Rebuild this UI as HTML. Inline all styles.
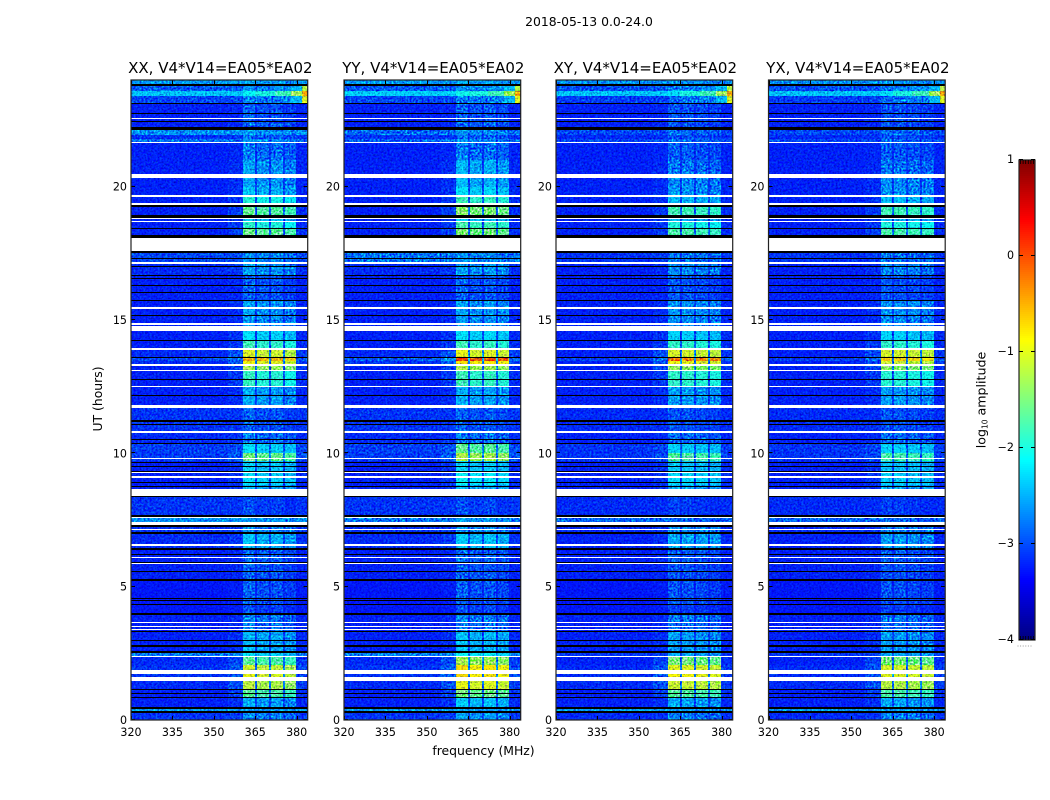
<!DOCTYPE html>
<html lang="en">
<head>
<meta charset="utf-8">
<title>2018-05-13 0.0-24.0</title>
<style>
html,body{margin:0;padding:0;background:#fff;}
svg{display:block;font-family:"DejaVu Sans","Liberation Sans",sans-serif;fill:#000;}
.noise-blend{mix-blend-mode:overlay;}
</style>
</head>
<body>
<svg id="fig" xmlns="http://www.w3.org/2000/svg" width="1050" height="800" viewBox="0 0 1050 800">
  <defs>
    <filter id="noise-gray" x="0" y="0" width="100%" height="100%" color-interpolation-filters="sRGB">
      <feTurbulence type="fractalNoise" baseFrequency="0.5" numOctaves="2" seed="4"/>
      <feColorMatrix type="matrix" values="2 0 0 0 -0.52  2 0 0 0 -0.52  2 0 0 0 -0.52  0 0 0 0 1"/>
    </filter>
    <filter id="noise-dark" x="0" y="0" width="100%" height="100%" color-interpolation-filters="sRGB">
      <feTurbulence type="fractalNoise" baseFrequency="0.55" numOctaves="2" seed="11"/>
      <feColorMatrix type="matrix" values="0 0 0 0 0  0 0 0 0 0  0 0 0 0 0.5  1.6 0 0 0 -0.8"/>
    </filter>
  </defs>
  <text x="589" y="26" font-size="12.4" text-anchor="middle">2018-05-13 0.0-24.0</text>
  <text x="102" y="399" font-size="12.4" text-anchor="middle" transform="rotate(-90 102 399)">UT (hours)</text>
  <text x="483.5" y="755" font-size="12.4" text-anchor="middle">frequency (MHz)</text>
  <text x="985.5" y="400" font-size="12.6" text-anchor="middle" transform="rotate(-90 985.5 400)">log<tspan font-size="7.5" dy="2">10</tspan><tspan dy="-2"> amplitude</tspan></text>
  <g id="panels"></g>
  <g id="cbar"></g>
</svg>
<script>
// ---- chart data ----
const panelTitles = ["XX, V4*V14=EA05*EA02", "YY, V4*V14=EA05*EA02", "XY, V4*V14=EA05*EA02", "YX, V4*V14=EA05*EA02"];
const freqTicks = [320, 335, 350, 365, 380];
const utTicks = [0, 5, 10, 15, 20];
const colorTicks = [1, 0, -1, -2, -3, -4];
const colorTickLabels = ["1", "0", "\u22121", "\u22122", "\u22123", "\u22124"];
// frequency windows (MHz) of the four receiver blocks
const blockStart = [360.6, 365.6, 370.7, 375.7];
const blockEnd = [364.8, 369.9, 375.0, 379.9];
// time segment boundaries (UT hours) and log10 amplitude per segment
const segEdges = [0,0.34,0.41,0.81,1.16,1.47,1.88,2.05,2.36,2.57,3.34,3.68,4.0,4.35,5.25,5.9,6.4,7.0,7.43,7.61,8.38,8.8,9.3,9.7,10.0,10.35,10.85,11.7,12.15,12.5,13.1,13.3,13.45,13.63,13.95,14.25,14.6,15.2,15.75,16.3,16.7,17.1,17.5,18.1,18.42,18.7,18.85,19.3,19.65,20.0,20.35,20.5,21.0,21.65,21.8,21.95,22.13,22.46,23.1,23.4,23.6,23.85,24];
const bgXX = [-3.1,-2.55,-3.2,-3.2,-3.15,-3.1,-3.1,-3.15,-2.7,-3.2,-3.2,-3.2,-3.25,-3.25,-3.2,-3.2,-3.15,-3.1,-2.6,-3.1,-3.2,-3.2,-3.2,-3.05,-3.05,-3.15,-3.1,-3.2,-3.2,-3.2,-3.2,-3.15,-3.0,-3.15,-3.2,-3.2,-3.2,-3.2,-3.2,-3.2,-3.15,-3.0,-3.2,-3.2,-3.2,-3.2,-3.2,-3.2,-3.2,-3.2,-3.2,-3.2,-3.2,-2.8,-3.1,-2.6,-3.2,-3.2,-3.0,-2.35,-2.9,-2.55];
const bgYY = [-3.1,-2.55,-3.2,-3.2,-3.15,-3.1,-3.1,-3.15,-2.7,-3.2,-3.2,-3.2,-3.25,-3.25,-3.2,-3.2,-3.15,-3.1,-2.75,-3.1,-3.2,-3.2,-3.2,-3.05,-3.05,-3.15,-3.1,-3.2,-3.2,-3.2,-3.2,-3.1,-2.9,-3.15,-3.2,-3.2,-3.2,-3.2,-3.2,-3.2,-3.15,-2.75,-3.2,-3.2,-3.2,-3.2,-3.2,-3.2,-3.2,-3.2,-3.2,-3.2,-3.2,-2.85,-3.1,-2.8,-3.2,-3.2,-3.0,-2.3,-2.9,-2.55];
const bgCross = [-3.15,-2.55,-3.2,-3.2,-3.15,-3.15,-3.15,-3.2,-3.1,-3.2,-3.2,-3.2,-3.25,-3.25,-3.2,-3.2,-3.2,-3.15,-2.85,-3.15,-3.2,-3.2,-3.2,-3.1,-3.1,-3.2,-3.15,-3.2,-3.2,-3.2,-3.2,-3.2,-3.05,-3.2,-3.2,-3.2,-3.2,-3.2,-3.2,-3.2,-3.2,-3.1,-3.2,-3.2,-3.2,-3.2,-3.2,-3.2,-3.2,-3.2,-3.2,-3.2,-3.2,-3.0,-3.15,-3.0,-3.2,-3.2,-3.05,-2.35,-2.95,-2.6];
const blockXX = [-2.7,-2.55,-2.55,-1.75,-1.25,-1.05,-1.15,-1.75,-2.3,-2.5,-2.8,-2.75,-3.05,-2.95,-2.95,-2.9,-2.45,-2.65,-2.6,-3.05,-2.5,-2.3,-2.35,-1.6,-2.3,-2.8,-2.95,-2.55,-2.55,-1.95,-1.35,-1.0,-0.6,-1.1,-1.9,-2.3,-2.65,-2.6,-2.95,-2.95,-2.6,-2.7,-2.7,-1.65,-2.0,-2.4,-1.7,-2.05,-2.45,-2.6,-2.6,-2.6,-2.8,-2.65,-2.9,-2.6,-2.9,-2.95,-2.8,-2.2,-2.7,-2.55];
const blockYY = [-2.6,-2.55,-2.4,-1.6,-1.05,-0.85,-0.85,-1.35,-2.2,-2.45,-2.8,-2.75,-3.05,-2.95,-2.95,-2.9,-2.4,-2.65,-2.6,-3.05,-2.5,-2.2,-2.35,-1.3,-1.7,-2.8,-2.95,-2.55,-2.55,-1.9,-1.3,-0.85,-0.1,-1.05,-1.9,-2.3,-2.65,-2.6,-2.95,-2.95,-2.6,-2.7,-2.7,-1.55,-1.85,-2.4,-1.5,-1.9,-2.3,-2.5,-2.5,-2.5,-2.8,-2.65,-2.9,-2.65,-2.9,-2.95,-2.8,-2.15,-2.7,-2.55];
const blockXY = [-2.7,-2.55,-2.5,-1.7,-1.1,-0.9,-1.0,-1.5,-2.5,-2.55,-2.8,-2.75,-3.05,-2.95,-2.95,-2.9,-2.5,-2.65,-2.8,-3.05,-2.5,-2.25,-2.35,-1.7,-2.3,-2.8,-2.95,-2.55,-2.55,-1.9,-1.35,-0.95,-0.3,-1.05,-1.9,-2.3,-2.65,-2.6,-2.95,-2.95,-2.65,-2.75,-2.7,-1.75,-2.0,-2.45,-1.8,-2.4,-2.6,-2.65,-2.65,-2.75,-2.9,-2.8,-2.95,-2.8,-2.95,-2.95,-2.85,-2.25,-2.75,-2.6];
const blockYX = [-2.7,-2.55,-2.5,-1.75,-1.2,-1.0,-1.05,-1.5,-2.5,-2.55,-2.8,-2.75,-3.05,-2.95,-2.95,-2.9,-2.55,-2.65,-2.8,-3.05,-2.5,-2.3,-2.35,-1.75,-2.3,-2.8,-2.95,-2.55,-2.55,-1.95,-1.4,-1.1,-0.7,-1.05,-1.9,-2.3,-2.65,-2.6,-2.95,-2.95,-2.65,-2.75,-2.7,-1.75,-2.0,-2.45,-1.8,-2.4,-2.6,-2.65,-2.65,-2.75,-2.9,-2.8,-2.95,-2.8,-2.95,-2.95,-2.85,-2.25,-2.75,-2.6];
// per-block level offsets for each polarisation
const blockOffsetXX = [0.1, 0, 0.02, -0.1];
const blockOffsetYY = [0.1, 0, 0.05, -0.05];
const blockOffsetXY = [0.02, 0, -0.05, -0.1];
const blockOffsetYX = [0.02, 0, -0.05, -0.1];
// strong RFI wedge at the top-right corner of every panel
const spurFreqStart = [365, 372, 378, 382];
const spurFreqEnd = [372, 378, 382, 384];
const spurUTStart = [23.4, 23.1, 23.6];
const spurUTEnd = [23.6, 23.4, 23.85];
const spurCore = [-2.0, -1.8, -1.3, -0.5];
const spurLower = [-2.75, -2.7, -2.4, -1.0];
const spurUpper = [-2.7, -2.6, -2.4, -1.2];
// flagged (no data, white) and zero-amplitude (black) intervals, UT hours
const whiteStart = [22.52,21.64,20.34,19.61,19.31,18.77,18.68,17.59,17.1,15.43,14.81,14.64,14.59,13.89,13.29,13.07,12.47,11.7,10.78,9.77,9.26,9.09,8.4,7.58,7.31,7.13,6.54,6.09,5.85,3.63,3.5,3.39,2.36,1.73,1.47];
const whiteEnd = [22.58,21.68,20.49,19.67,19.39,18.81,18.71,18.07,17.18,15.49,14.89,14.76,14.63,13.95,13.35,13.13,12.53,11.81,10.84,9.83,9.3,9.15,8.68,7.61,7.43,7.16,6.6,6.13,5.89,3.68,3.54,3.43,2.4,1.88,1.62];
const blackStart = [23.78,23.1,22.73,22.43,22.13,19.24,18.84,18.41,18.09,17.51,17.33,16.99,16.65,16.54,16.28,16.01,15.71,15.15,14.21,13.59,12.75,12.15,11.16,11.06,10.5,10.35,9.64,9.49,9.3,8.89,8.72,8.36,7.63,7.24,6.98,6.39,6.2,5.89,5.55,5.21,4.56,4.46,4.31,3.94,3.3,2.96,2.79,2.72,2.53,1.14,0.99,0.81,0.41,0.25];
const blackEnd = [23.85,23.14,22.76,22.46,22.22,19.31,18.92,18.45,18.17,17.59,17.34,17.03,16.69,16.58,16.31,16.05,15.75,15.19,14.25,13.63,12.79,12.19,11.25,11.1,10.54,10.39,9.69,9.53,9.34,8.93,8.78,8.4,7.67,7.31,7.05,6.45,6.24,5.93,5.59,5.27,4.59,4.5,4.35,4.02,3.34,3.0,2.83,2.76,2.57,1.18,1.03,0.85,0.5,0.34];

// ---- axes ----
const NS = "http://www.w3.org/2000/svg";
const panelLeft = [131, 344, 556, 768.5];
const panelWidth = 176.7;
const plotTop = 80, plotBottom = 720;
const freqMin = 320, freqMax = 384, utMin = 0, utMax = 24;
const levelMin = -4, levelMax = 1;
function xScale(p, f) { return panelLeft[p] + (f - freqMin) / (freqMax - freqMin) * panelWidth; }
function yScale(ut) { return plotBottom - (ut - utMin) / (utMax - utMin) * (plotBottom - plotTop); }
function clamp01(v) { return Math.max(0, Math.min(1, v)); }
function jet(level) {
  const t = clamp01((level - levelMin) / (levelMax - levelMin));
  const r = clamp01(Math.min(4 * t - 1.5, -4 * t + 4.5));
  const g = clamp01(Math.min(4 * t - 0.5, -4 * t + 3.5));
  const b = clamp01(Math.min(4 * t + 0.5, -4 * t + 2.5));
  return "rgb(" + Math.round(r * 255) + "," + Math.round(g * 255) + "," + Math.round(b * 255) + ")";
}
function svgEl(tag, attrs, parent) {
  const el = document.createElementNS(NS, tag);
  for (const k in attrs) el.setAttribute(k, attrs[k]);
  parent.appendChild(el);
  return el;
}
function heatCell(g, p, f0, f1, u0, u1, level) {
  const x0 = Math.round(xScale(p, f0)), x1 = Math.round(xScale(p, f1));
  const y0 = Math.round(yScale(u1)), y1 = Math.round(yScale(u0));
  if (x1 <= x0 || y1 <= y0) return;
  const el = svgEl("rect", { x: x0, y: y0, width: x1 - x0, height: y1 - y0, fill: jet(level) }, g);
  
  
}
function bandRect(g, p, u0, u1, color) {
  const x0 = xScale(p, freqMin);
  const y0 = Math.round(yScale(u1));
  const h = Math.max(1, Math.round(yScale(u0)) - y0);
  const el = svgEl("rect", { x: x0, y: y0, width: panelWidth, height: h, fill: color }, g);
  
  
}

const panelsRoot = document.getElementById("panels");
const bgByPanel = [bgXX, bgYY, bgCross, bgCross];
const blockByPanel = [blockXX, blockYY, blockXY, blockYX];
const offsetByPanel = [blockOffsetXX, blockOffsetYY, blockOffsetXY, blockOffsetYX];

panelTitles.forEach(function (title, p) {
  const g = svgEl("g", {}, panelsRoot);
  
  
  const stack = svgEl("g", { style: "isolation:isolate" }, g);
  
  
  const img = svgEl("g", { "shape-rendering": "crispEdges" }, stack);
  
  

  for (let i = 0; i < segEdges.length - 1; i++) {
    const u0 = segEdges[i], u1 = segEdges[i + 1];
    const bg = bgByPanel[p][i], lev = blockByPanel[p][i];
    heatCell(img, p, freqMin, 355, u0, u1, bg);
    heatCell(img, p, 355, blockStart[0], u0, u1, bg + 0.1 * (lev - bg));
    blockStart.forEach(function (bs, b) {
      heatCell(img, p, bs, blockEnd[b], u0, u1, lev + offsetByPanel[p][b]);
      const next = b < blockStart.length - 1 ? blockStart[b + 1] : freqMax;
      const gapShare = b < blockStart.length - 1 ? 0.2 : 0.05;
      heatCell(img, p, blockEnd[b], next, u0, u1, bg + gapShare * (lev - bg));
    });
  }
  spurFreqStart.forEach(function (fs, k) {
    const fe = spurFreqEnd[k];
    heatCell(img, p, fs, fe, spurUTStart[0], spurUTEnd[0], spurCore[k]);
    heatCell(img, p, fs, fe, spurUTStart[1], spurUTEnd[1], spurLower[k]);
    heatCell(img, p, fs, fe, spurUTStart[2], spurUTEnd[2], spurUpper[k]);
  });

  const nx = xScale(p, freqMin), nw = panelWidth, nh = plotBottom - plotTop;
  const n1 = svgEl("rect", { x: nx, y: plotTop, width: nw, height: nh, filter: "url(#noise-gray)", class: "noise-blend" }, stack);
  
  
  const n2 = svgEl("rect", { x: nx, y: plotTop, width: nw, height: nh, filter: "url(#noise-dark)" }, stack);
  
  

  const bands = svgEl("g", { "shape-rendering": "crispEdges" }, g);
  
  
  blackStart.forEach(function (s, k) { bandRect(bands, p, s, blackEnd[k], "#000"); });
  whiteStart.forEach(function (s, k) { bandRect(bands, p, s, whiteEnd[k], "#fff"); });

  const axis = svgEl("g", { stroke: "#000", "stroke-width": 1, "shape-rendering": "crispEdges" }, g);
  
  
  freqTicks.forEach(function (f) {
    const x = Math.round(xScale(p, f)) + 0.5;
    svgEl("line", { x1: x, x2: x, y1: plotBottom, y2: plotBottom - 4 }, axis);
    svgEl("line", { x1: x, x2: x, y1: plotTop, y2: plotTop + 4 }, axis);
  });
  utTicks.forEach(function (u) {
    const y = Math.round(yScale(u)) - 0.5;
    svgEl("line", { x1: xScale(p, freqMin), x2: xScale(p, freqMin) + 4, y1: y, y2: y }, axis);
    svgEl("line", { x1: xScale(p, freqMax), x2: xScale(p, freqMax) - 4, y1: y, y2: y }, axis);
  });

  const frame = svgEl("rect", { x: xScale(p, freqMin), y: plotTop, width: panelWidth, height: plotBottom - plotTop, fill: "none", stroke: "#222", "stroke-width": 1.2 }, g);
  
  

  freqTicks.forEach(function (f) {
    const t = svgEl("text", { x: xScale(p, f), y: 736, "font-size": 11.1, "text-anchor": "middle" }, g);
    
    
    t.textContent = f;
  });
  utTicks.forEach(function (u) {
    const t = svgEl("text", { x: xScale(p, freqMin) - 4, y: yScale(u) + 4, "font-size": 11.1, "text-anchor": "end" }, g);
    
    
    t.textContent = u;
  });
  const tt = svgEl("text", { x: xScale(p, (freqMin + freqMax) / 2) + 1, y: 73, "font-size": 15, "text-anchor": "middle" }, g);
  
  
  tt.textContent = title;
});

// ---- colorbar ----
const cbarRoot = document.getElementById("cbar");
const cbLeft = 1019, cbRight = 1035, cbTop = 160, cbBottom = 640;
function cbY(level) { return cbBottom - (level - levelMin) / (levelMax - levelMin) * (cbBottom - cbTop); }
const cbGrad = svgEl("g", { "shape-rendering": "crispEdges" }, cbarRoot);


for (let py = cbTop; py < cbBottom; py += 2) {
  const level = levelMax - (py + 1 - cbTop) / (cbBottom - cbTop) * (levelMax - levelMin);
  const r = svgEl("rect", { x: cbLeft, y: py, width: cbRight - cbLeft, height: 2, fill: jet(level) }, cbGrad);
  
  
}
const cbFrame = svgEl("rect", { x: cbLeft, y: cbTop, width: cbRight - cbLeft, height: cbBottom - cbTop, fill: "none", stroke: "#222", "stroke-width": 1.2 }, cbarRoot);


colorTicks.forEach(function (lv, k) {
  const y = Math.round(cbY(lv)) - 0.5;
  const a = svgEl("line", { x1: cbLeft, x2: cbLeft + 4, y1: y, y2: y, stroke: "#000", "shape-rendering": "crispEdges" }, cbarRoot);
  
  
  const b = svgEl("line", { x1: cbRight, x2: cbRight - 4, y1: y, y2: y, stroke: "#000", "shape-rendering": "crispEdges" }, cbarRoot);
  
  
  const t = svgEl("text", { x: 1014, y: cbY(lv) + 3, "font-size": 11.1, "text-anchor": "end" }, cbarRoot);
  
  
  t.textContent = colorTickLabels[k];
});
for (let i = 0; i < 6; i++) {
  const x = cbLeft + 1.5 + i * 2.6;
  const t1 = svgEl("line", { x1: x, x2: x, y1: cbTop, y2: cbTop + 4, stroke: "#000", "stroke-width": 0.8 }, cbarRoot);
  
  
  const t2 = svgEl("line", { x1: x, x2: x, y1: cbBottom, y2: cbBottom - 4, stroke: "#000", "stroke-width": 0.8 }, cbarRoot);
  
  
  const d = svgEl("rect", { x: x - 3, y: 645.5, width: 1, height: 1, fill: "#999" }, cbarRoot);
  
  
}
</script>
</body>
</html>
